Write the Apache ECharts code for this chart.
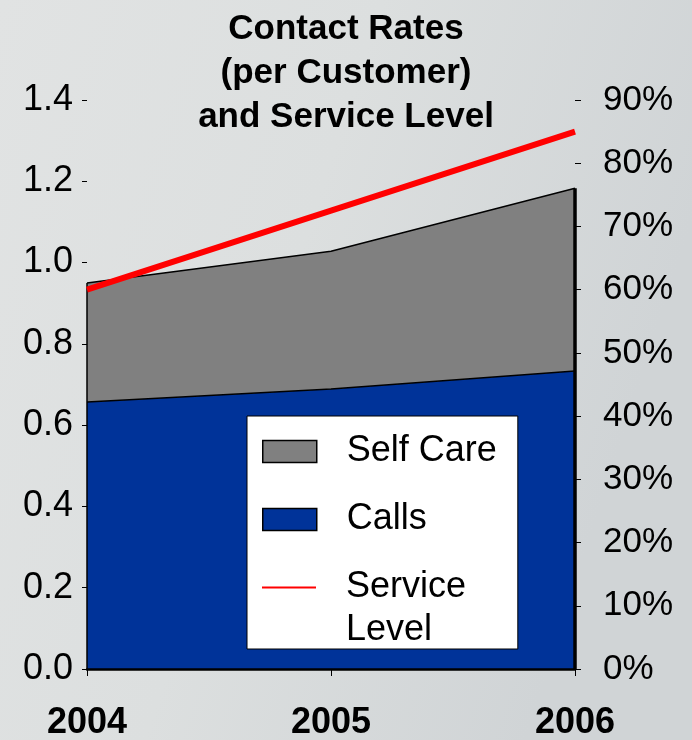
<!DOCTYPE html>
<html>
<head>
<meta charset="utf-8">
<script src="https://cdn.jsdelivr.net/npm/echarts@6/dist/echarts.min.js"></script>
<style>
  html, body { margin: 0; padding: 0; }
  #chart { width: 692px; height: 740px; }
</style>
</head>
<body>
<div id="chart"></div>
<script>
// Contact rates per customer (stacked areas) and service level (line, right axis)
const years = ['2004', '2005', '2006'];
const calls = [0.657, 0.689, 0.733];
const selfCare = [0.293, 0.339, 0.450];
const serviceLevel = [0.60, 0.725, 0.85];
const leftTicks = { min: 0, max: 1.4, step: 0.2 };
const rightTicks = { min: 0, max: 0.9, step: 0.1 };

const totals = calls.map((v, i) => v + selfCare[i]);
const last = years.length - 1;

const FONT = '"Liberation Sans", Arial, sans-serif';
const legendText = {
  fontFamily: FONT, fontSize: 36, color: '#000',
  lineHeight: 43, padding: [0, 0, 0, 25]
};

const chart = echarts.init(document.getElementById('chart'), null, { renderer: 'canvas' });

chart.setOption({
  backgroundColor: {
    type: 'linear', x: 0, y: 0, x2: 1, y2: 0.3,
    colorStops: [
      { offset: 0, color: '#e1e3e3' },
      { offset: 0.5, color: '#dcdfdf' },
      { offset: 1, color: '#d0d4d6' }
    ]
  },
  animation: false,
  textStyle: { fontFamily: FONT },
  title: {
    text: 'Contact Rates\n(per Customer)\nand Service Level',
    left: 'center',
    top: 2,
    textStyle: {
      fontFamily: FONT, fontWeight: 'bold', fontSize: 35,
      lineHeight: 44, color: '#000'
    }
  },
  legend: [
    {
      // boxed legend holding the two area series; its frame also encloses the line entry
      orient: 'vertical',
      left: 247,
      top: 416,
      height: 600,
      padding: [14, 21, 108, 15],
      itemGap: 25,
      itemWidth: 54,
      itemHeight: 22,
      backgroundColor: '#ffffff',
      borderColor: '#000',
      borderWidth: 1,
      borderRadius: 0,
      selectedMode: false,
      textStyle: legendText,
      z: 4,
      data: [
        { name: 'Self Care', icon: 'rect', itemStyle: { color: '#808080', borderColor: '#000', borderWidth: 1.5 } },
        { name: 'Calls', icon: 'rect', itemStyle: { color: '#003399', borderColor: '#000', borderWidth: 1.5 } }
      ]
    },
    {
      // line entry with a two-line label, icon aligned to the first line
      orient: 'vertical',
      left: 247,
      top: 523,
      height: 600,
      padding: [0, 21, 0, 15],
      itemWidth: 54,
      itemHeight: 22,
      selectedMode: false,
      textStyle: legendText,
      z: 5,
      data: [
        { name: 'Service Level', icon: 'path://M0,10 H54 V12 H0 Z', itemStyle: { color: '#ff0000', borderWidth: 0 } }
      ],
      formatter: () => '\nService\nLevel'
    }
  ],
  grid: { left: 87, right: 117, top: 100, bottom: 71, containLabel: false, outerBoundsMode: 'none' },
  xAxis: {
    type: 'category',
    data: years,
    boundaryGap: false,
    axisLine: { show: true, lineStyle: { color: '#000', width: 2.5 } },
    axisTick: { show: true, alignWithLabel: true, length: 7, lineStyle: { color: '#000', width: 1 } },
    axisLabel: { fontFamily: FONT, fontWeight: 'bold', fontSize: 36, color: '#000', margin: 36 },
    splitLine: { show: false },
    z: 10
  },
  yAxis: [
    {
      type: 'value',
      min: leftTicks.min, max: leftTicks.max, interval: leftTicks.step,
      axisLine: { show: false },
      axisTick: { show: true, length: 5, lineStyle: { color: '#000', width: 1 } },
      axisLabel: {
        fontFamily: FONT, fontSize: 36, color: '#000', margin: 14,
        formatter: v => v.toFixed(1)
      },
      splitLine: { show: false }
    },
    {
      type: 'value',
      position: 'right',
      min: rightTicks.min, max: rightTicks.max, interval: rightTicks.step,
      axisLine: { show: false },
      axisTick: { show: true, length: 6, lineStyle: { color: '#000', width: 1 } },
      axisLabel: {
        fontFamily: FONT, fontSize: 35, color: '#000', margin: 28,
        formatter: v => Math.round(v * 100) + '%'
      },
      splitLine: { show: false }
    }
  ],
  series: [
    {
      name: 'Calls',
      type: 'line',
      stack: 'contacts',
      data: calls,
      symbol: 'none',
      lineStyle: { color: '#000', width: 1.5 },
      itemStyle: { color: '#003399' },
      areaStyle: { color: '#003399', opacity: 1 },
      z: 2
    },
    {
      name: 'Self Care',
      type: 'line',
      stack: 'contacts',
      data: selfCare,
      symbol: 'none',
      lineStyle: { color: '#000', width: 1.5 },
      itemStyle: { color: '#808080' },
      areaStyle: { color: '#808080', opacity: 1 },
      z: 2,
      markLine: {
        silent: true,
        symbol: 'none',
        label: { show: false },
        data: [
          [
            { coord: [years[0], 0], lineStyle: { color: '#000', width: 1.5, type: 'solid' } },
            { coord: [years[0], totals[0]] }
          ],
          [
            { coord: [years[last], 0], lineStyle: { color: '#000', width: 3.5, type: 'solid' } },
            { coord: [years[last], totals[last]] }
          ]
        ]
      }
    },
    {
      name: 'Service Level',
      type: 'line',
      yAxisIndex: 1,
      data: serviceLevel,
      symbol: 'none',
      lineStyle: { color: '#ff0000', width: 6 },
      itemStyle: { color: '#ff0000' },
      z: 5
    }
  ]
});
</script>
</body>
</html>
